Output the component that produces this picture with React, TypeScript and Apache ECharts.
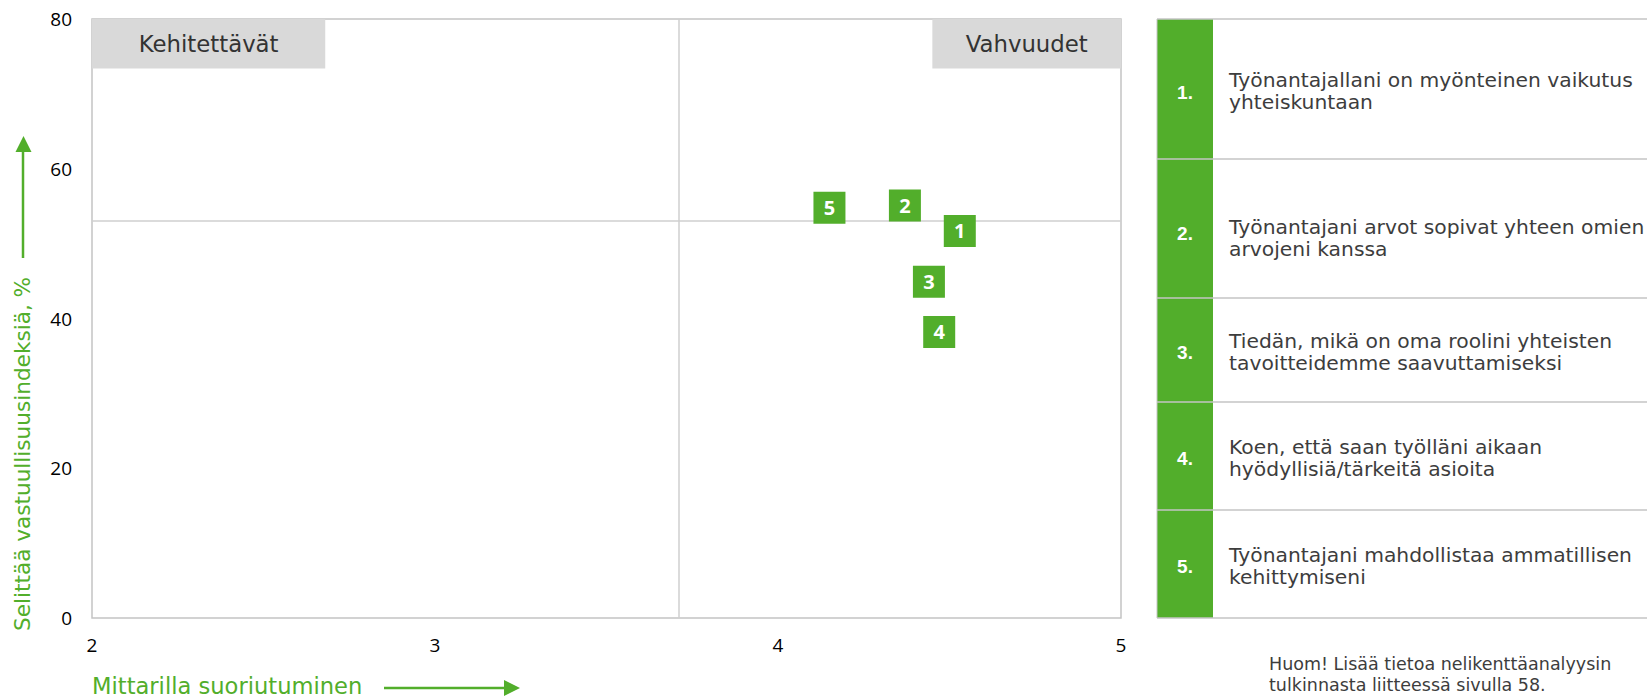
import { useEffect, useRef } from 'react';
import * as echarts from 'echarts';

// ---- data ----
const itemIds = ['1', '2', '3', '4', '5'];
const performanceScores = [4.53, 4.37, 4.44, 4.47, 4.15];
const explainedShares = [51.7, 55.1, 44.9, 38.2, 54.8];

const xMin = 2;
const xMax = 5;
const xStep = 1;
const yMin = 0;
const yMax = 80;
const yStep = 20;

const xDivider = 3.71;
const yDivider = 53;

const quadrantNames = ['Kehitettävät', 'Vahvuudet'];
const quadrantXRanges = [
  [2, 2.68],
  [4.45, 5],
];
const quadrantYRange = [73.4, 80];

const statementNumbers = ['1.', '2.', '3.', '4.', '5.'];
const statementTexts = [
  'Työnantajallani on myönteinen vaikutus\nyhteiskuntaan',
  'Työnantajani arvot sopivat yhteen omien\narvojeni kanssa',
  'Tiedän, mikä on oma roolini yhteisten\ntavoitteidemme saavuttamiseksi',
  'Koen, että saan työlläni aikaan\nhyödyllisiä/tärkeitä asioita',
  'Työnantajani mahdollistaa ammatillisen\nkehittymiseni',
];

const xAxisTitle = 'Mittarilla suoriutuminen';
const yAxisTitle = 'Selittää vastuullisuusindeksiä, %';
const noteLines = ['Huom! Lisää tietoa nelikenttäanalyysin', 'tulkinnasta liitteessä sivulla 58.'];

// ---- styling / layout ----
const WIDTH = 1647;
const HEIGHT = 699;
const GREEN = '#52ae2b';
const BORDER = '#c4c4c4';
const TEXT_COLOR = '#3d3d3d';
const TEXT_FONT = '"DejaVu Sans", sans-serif';
const TICK_FONT = '"Open Sans", sans-serif';

const tableLeft = 1157;
const numberColWidth = 56;
const rowEdges = [19, 159, 298, 402, 510, 618];
// small vertical nudges of each row's text block within its cell
const rowTextShift = [2, 9, 2, 2, 2];
const rowNumberShift = [3, 5, 2, 2, 2];

function buildTable() {
  const els: any[] = [];
  const right = WIDTH + 20;
  for (let i = 0; i < statementTexts.length; i++) {
    const top = rowEdges[i];
    const bottom = rowEdges[i + 1];
    const mid = (top + bottom) / 2;
    els.push({
      type: 'rect',
      shape: { x: tableLeft, y: top, width: numberColWidth, height: bottom - top },
      style: { fill: GREEN },
      silent: true,
    });
    els.push({
      type: 'text',
      x: tableLeft + numberColWidth / 2,
      y: mid + rowNumberShift[i],
      style: {
        text: statementNumbers[i],
        fill: '#ffffff',
        font: 'bold 19px "Liberation Sans", Arial, sans-serif',
        align: 'center',
        verticalAlign: 'middle',
      },
      silent: true,
    });
    els.push({
      type: 'text',
      x: 1229,
      y: mid + rowTextShift[i],
      style: {
        text: statementTexts[i],
        fill: TEXT_COLOR,
        fontFamily: TEXT_FONT,
        fontSize: 20.3,
        lineHeight: 22,
        align: 'left',
        verticalAlign: 'middle',
      },
      silent: true,
    });
  }
  rowEdges.forEach((y) => {
    els.push({
      type: 'line',
      shape: { x1: tableLeft, y1: y, x2: right, y2: y },
      style: { stroke: BORDER, lineWidth: 1.5 },
      silent: true,
    });
  });
  els.push({
    type: 'line',
    shape: { x1: tableLeft, y1: rowEdges[0], x2: tableLeft, y2: rowEdges[rowEdges.length - 1] },
    style: { stroke: BORDER, lineWidth: 1 },
    silent: true,
  });
  return els;
}

function buildDecorations() {
  return [
    // vertical axis title with arrow
    {
      type: 'text',
      x: 22,
      y: 631,
      rotation: Math.PI / 2,
      style: {
        text: yAxisTitle,
        fill: GREEN,
        fontFamily: TEXT_FONT,
        fontSize: 21.6,
        align: 'left',
        verticalAlign: 'middle',
      },
      silent: true,
    },
    {
      type: 'line',
      shape: { x1: 23, y1: 258, x2: 23, y2: 150 },
      style: { stroke: GREEN, lineWidth: 2.5 },
      silent: true,
    },
    {
      type: 'polygon',
      shape: { points: [[15.5, 152], [31.5, 152], [23.5, 136]] },
      style: { fill: GREEN },
      silent: true,
    },
    // horizontal axis title with arrow
    {
      type: 'text',
      x: 92,
      y: 686,
      style: {
        text: xAxisTitle,
        fill: GREEN,
        fontFamily: TEXT_FONT,
        fontSize: 22.6,
        align: 'left',
        verticalAlign: 'middle',
      },
      silent: true,
    },
    {
      type: 'line',
      shape: { x1: 384, y1: 688, x2: 506, y2: 688 },
      style: { stroke: GREEN, lineWidth: 2.5 },
      silent: true,
    },
    {
      type: 'polygon',
      shape: { points: [[504, 680], [504, 696], [520, 688]] },
      style: { fill: GREEN },
      silent: true,
    },
    // footnote
    {
      type: 'text',
      x: 1269,
      y: 674,
      style: {
        text: noteLines.join('\n'),
        fill: TEXT_COLOR,
        fontFamily: TEXT_FONT,
        fontSize: 17.5,
        lineHeight: 21,
        align: 'left',
        verticalAlign: 'middle',
      },
      silent: true,
    },
  ];
}

export default function App() {
  const ref = useRef<HTMLDivElement>(null);

  useEffect(() => {
    if (!ref.current) return;
    const chart = echarts.init(ref.current, undefined, { renderer: 'svg' });

    const points = itemIds.map((id, i) => ({
      name: id,
      value: [performanceScores[i], explainedShares[i]],
    }));

    const quadrantAreas = quadrantNames.map((name, i) => [
      { name, coord: [quadrantXRanges[i][0], quadrantYRange[1]] },
      { coord: [quadrantXRanges[i][1], quadrantYRange[0]] },
    ]);

    chart.setOption({
      animation: false,
      backgroundColor: '#ffffff',
      grid: {
        left: 92,
        right: WIDTH - 1121,
        top: 19,
        bottom: HEIGHT - 618,
        show: true,
        borderColor: BORDER,
        borderWidth: 1.5,
        backgroundColor: 'transparent',
      },
      xAxis: {
        type: 'value',
        min: xMin,
        max: xMax,
        interval: xStep,
        axisLine: { show: false },
        axisTick: { show: false },
        splitLine: { show: false },
        axisLabel: {
          color: '#000000',
          fontFamily: TICK_FONT,
          fontSize: 19,
          margin: 17,
        },
      },
      yAxis: {
        type: 'value',
        min: yMin,
        max: yMax,
        interval: yStep,
        axisLine: { show: false },
        axisTick: { show: false },
        splitLine: { show: false },
        axisLabel: {
          color: '#000000',
          fontFamily: TICK_FONT,
          fontSize: 19,
          margin: 20,
        },
      },
      series: [
        {
          name: 'quadrants',
          type: 'scatter',
          data: [],
          z: 1,
          silent: true,
          markLine: {
            silent: true,
            symbol: 'none',
            label: { show: false },
            lineStyle: { color: '#cfcfcf', width: 1.5, type: 'solid' },
            data: [{ xAxis: xDivider }, { yAxis: yDivider }],
          },
          markArea: {
            silent: true,
            itemStyle: { color: '#d9d9d9' },
            label: {
              show: true,
              position: 'inside',
              color: '#333333',
              fontFamily: TEXT_FONT,
              fontSize: 22.8,
            },
            data: quadrantAreas,
          },
        },
        {
          name: 'items',
          type: 'scatter',
          z: 5,
          symbol: 'rect',
          symbolSize: 32,
          itemStyle: { color: GREEN, opacity: 1 },
          label: {
            show: true,
            position: 'inside',
            formatter: '{b}',
            color: '#ffffff',
            fontFamily: TICK_FONT,
            fontWeight: 'bold',
            fontSize: 20,
          },
          data: points,
        },
      ],
      graphic: [...buildTable(), ...buildDecorations()],
    });

    return () => chart.dispose();
  }, []);

  return (
    <div
      ref={ref}
      style={{ position: 'fixed', left: 0, top: 0, width: WIDTH, height: HEIGHT, background: '#fff' }}
    />
  );
}
